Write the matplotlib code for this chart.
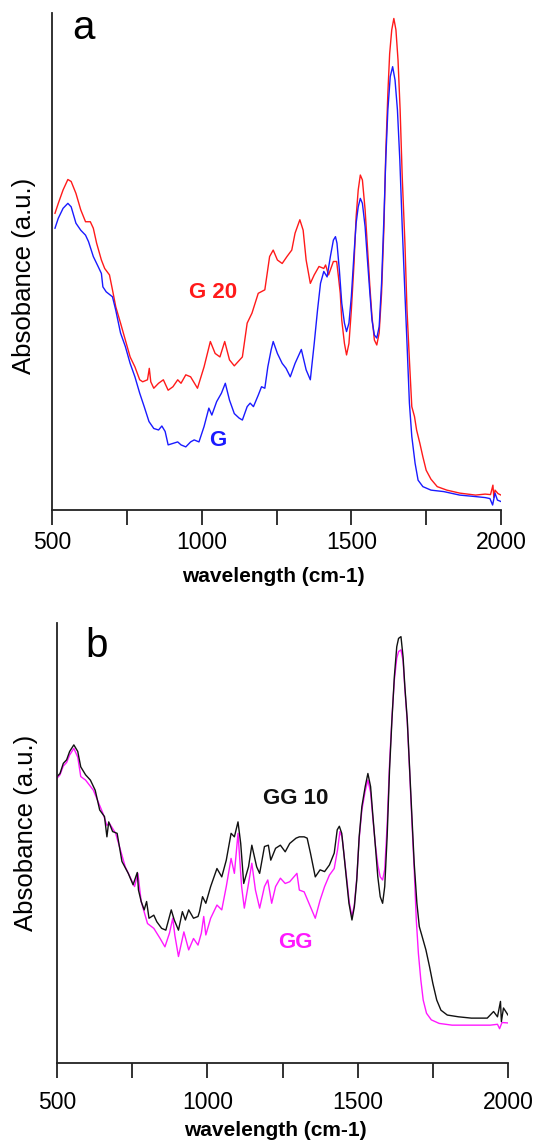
import matplotlib
matplotlib.use("Agg")
import matplotlib.pyplot as plt
import numpy as np

plt.rcParams['font.family'] = ['Liberation Sans', 'DejaVu Sans']

# ---------------- data (wavenumber, absorbance a.u.) ----------------
g20 = [(510,0.597),(521,0.617),(537,0.644),(553,0.665),(564,0.661),(580,0.637),(596,0.604),
       (612,0.580),(628,0.580),(638,0.567),(649,0.537),(665,0.503),(676,0.486),(692,0.473),
       (702,0.443),(713,0.409),(729,0.376),(745,0.342),(761,0.308),(777,0.288),(793,0.262),
       (803,0.258),(819,0.262),(825,0.285),(830,0.258),(840,0.245),(856,0.255),(872,0.262),
       (888,0.241),(904,0.248),(920,0.262),(931,0.255),(947,0.272),(963,0.268),(986,0.245),
       (1008,0.288),(1029,0.339),(1045,0.315),(1061,0.308),(1077,0.339),(1093,0.302),(1109,0.290),
       (1136,0.308),(1152,0.376),(1168,0.396),(1189,0.436),(1211,0.443),(1227,0.510),(1239,0.523),
       (1253,0.503),(1269,0.496),(1285,0.510),(1301,0.523),(1312,0.557),(1328,0.584),(1339,0.563),
       (1349,0.503),(1363,0.456),(1376,0.473),(1392,0.490),(1408,0.486),(1414,0.493),(1424,0.473),
       (1440,0.500),(1451,0.500),(1457,0.469),(1463,0.436),(1468,0.382),(1477,0.335),(1484,0.312),
       (1492,0.335),(1500,0.402),(1509,0.496),(1516,0.590),(1523,0.644),(1530,0.674),(1537,0.664),
       (1546,0.604),(1553,0.537),(1562,0.449),(1569,0.389),(1577,0.342),(1585,0.332),(1593,0.356),
       (1601,0.436),(1609,0.570),(1615,0.718),(1622,0.838),(1628,0.918),(1635,0.966),(1642,0.989),
       (1649,0.966),(1656,0.905),(1663,0.805),(1670,0.671),(1679,0.537),(1686,0.402),(1694,0.302),
       (1702,0.208),(1711,0.188),(1718,0.161),(1729,0.134),(1739,0.107),(1750,0.080),(1766,0.062),
       (1787,0.047),(1819,0.040),(1862,0.034),(1915,0.030),(1947,0.032),(1965,0.031),(1973,0.050),
       (1976,0.025),(1980,0.040),(1990,0.033),(2000,0.030)]

g = [(510,0.567),(521,0.587),(537,0.607),(553,0.617),(564,0.610),(580,0.577),(596,0.563),
     (612,0.553),(622,0.540),(638,0.510),(654,0.490),(665,0.476),(670,0.449),(681,0.439),
     (702,0.429),(713,0.402),(729,0.356),(745,0.329),(761,0.295),(777,0.268),(793,0.235),
     (808,0.208),(824,0.178),(840,0.164),(856,0.161),(867,0.169),(878,0.158),(888,0.131),
     (904,0.134),(920,0.137),(931,0.131),(947,0.127),(963,0.137),(975,0.141),(991,0.137),
     (1008,0.168),(1024,0.205),(1034,0.191),(1050,0.218),(1066,0.235),(1079,0.255),(1093,0.221),
     (1109,0.194),(1125,0.185),(1136,0.181),(1152,0.208),(1162,0.215),(1173,0.208),(1189,0.231),
     (1200,0.248),(1211,0.245),(1221,0.288),(1232,0.322),(1239,0.339),(1253,0.315),(1269,0.295),
     (1282,0.285),(1296,0.268),(1312,0.295),(1333,0.323),(1349,0.282),(1363,0.262),(1376,0.335),
     (1387,0.402),(1397,0.456),(1408,0.480),(1419,0.469),(1430,0.510),(1440,0.543),(1447,0.550),
     (1452,0.537),(1460,0.483),(1468,0.416),(1477,0.376),(1484,0.359),(1492,0.376),(1500,0.429),
     (1509,0.516),(1516,0.577),(1523,0.610),(1530,0.627),(1537,0.617),(1546,0.570),(1553,0.510),
     (1562,0.436),(1569,0.382),(1577,0.352),(1585,0.346),(1593,0.369),(1601,0.456),(1609,0.590),
     (1615,0.704),(1622,0.805),(1630,0.872),(1638,0.892),(1646,0.865),(1654,0.805),(1662,0.704),
     (1670,0.570),(1679,0.436),(1686,0.335),(1694,0.215),(1702,0.148),(1713,0.094),(1723,0.060),
     (1739,0.047),(1766,0.040),(1809,0.037),(1862,0.030),(1915,0.027),(1947,0.025),(1963,0.023),
     (1972,0.010),(1980,0.034),(1988,0.020),(2000,0.017)]

gg10 = [(500,0.651),(510,0.658),(521,0.681),(532,0.689),(542,0.708),(556,0.723),(569,0.708),
        (579,0.673),(595,0.655),(611,0.643),(627,0.620),(642,0.575),(658,0.560),(666,0.514),
        (672,0.548),(685,0.526),(700,0.522),(716,0.458),(737,0.431),(753,0.405),(767,0.433),
        (771,0.393),(780,0.367),(790,0.348),(798,0.367),(806,0.329),(822,0.336),(832,0.321),
        (848,0.306),(862,0.302),(880,0.348),(890,0.325),(904,0.302),(917,0.344),(927,0.325),
        (938,0.348),(954,0.329),(969,0.333),(974,0.344),(984,0.378),(995,0.363),(1011,0.401),
        (1032,0.442),(1048,0.423),(1063,0.461),(1079,0.522),(1090,0.514),(1102,0.548),(1111,0.499),
        (1121,0.408),(1137,0.446),(1148,0.495),(1164,0.446),(1174,0.431),(1190,0.492),(1203,0.495),
        (1211,0.461),(1227,0.488),(1243,0.495),(1259,0.480),(1274,0.499),(1295,0.511),(1306,0.514),
        (1322,0.514),(1332,0.511),(1343,0.477),(1359,0.423),(1375,0.439),(1390,0.435),(1406,0.450),
        (1422,0.477),(1432,0.530),(1439,0.538),(1447,0.522),(1454,0.477),(1463,0.416),(1471,0.363),
        (1481,0.325),(1489,0.355),(1497,0.416),(1505,0.514),(1514,0.583),(1525,0.628),(1534,0.658),
        (1543,0.628),(1550,0.567),(1559,0.492),(1567,0.423),(1575,0.378),(1583,0.363),(1590,0.401),
        (1598,0.514),(1606,0.666),(1614,0.780),(1622,0.878),(1630,0.946),(1636,0.965),(1644,0.969),
        (1651,0.923),(1657,0.855),(1665,0.780),(1673,0.666),(1681,0.552),(1688,0.454),(1697,0.363),
        (1705,0.310),(1713,0.291),(1727,0.257),(1739,0.219),(1750,0.181),(1763,0.143),(1777,0.120),
        (1798,0.109),(1835,0.105),(1878,0.102),(1931,0.102),(1952,0.117),(1965,0.105),(1975,0.140),
        (1978,0.094),(1985,0.125),(2000,0.109)]

gg = [(500,0.647),(510,0.655),(521,0.675),(532,0.683),(542,0.700),(556,0.715),(569,0.695),
      (579,0.651),(595,0.643),(621,0.620),(653,0.567),(666,0.540),(674,0.545),(695,0.522),
      (727,0.446),(758,0.401),(769,0.431),(780,0.367),(801,0.317),(822,0.306),(843,0.283),
      (859,0.264),(874,0.295),(885,0.329),(892,0.290),(904,0.242),(922,0.298),(938,0.257),
      (954,0.283),(969,0.268),(980,0.295),(988,0.333),(995,0.291),(1011,0.329),(1032,0.359),
      (1048,0.348),(1063,0.401),(1079,0.465),(1090,0.431),(1102,0.522),(1114,0.401),(1123,0.352),
      (1137,0.408),(1148,0.454),(1160,0.393),(1174,0.352),(1190,0.401),(1201,0.416),(1214,0.363),
      (1227,0.401),(1243,0.420),(1259,0.408),(1274,0.412),(1298,0.431),(1306,0.393),(1322,0.389),
      (1338,0.363),(1359,0.329),(1375,0.370),(1390,0.401),(1406,0.427),(1422,0.442),(1433,0.484),
      (1441,0.526),(1448,0.514),(1459,0.446),(1465,0.410),(1472,0.365),(1481,0.333),(1489,0.360),
      (1497,0.420),(1505,0.510),(1514,0.575),(1525,0.618),(1534,0.643),(1543,0.615),(1550,0.560),
      (1559,0.495),(1567,0.450),(1575,0.423),(1583,0.416),(1590,0.440),(1598,0.540),(1606,0.680),
      (1614,0.785),(1622,0.870),(1630,0.920),(1636,0.935),(1644,0.939),(1651,0.914),(1657,0.850),
      (1665,0.775),(1673,0.660),(1681,0.540),(1688,0.440),(1695,0.325),(1702,0.249),(1710,0.189),
      (1718,0.143),(1729,0.113),(1745,0.098),(1771,0.090),(1814,0.086),(1878,0.086),(1941,0.086),
      (1965,0.088),(1972,0.078),(1980,0.092),(2000,0.091)]

xticks_major = [500, 1000, 1500, 2000]
xticks_minor = [750, 1250, 1750]
xlabel = "wavelength (cm-1)"
ylabel = "Absobance (a.u.)"

# ---------------- figure ----------------
W, H = 550, 1141
fig = plt.figure(figsize=(W/100, H/100), dpi=100)
axA = fig.add_axes([52/W, (H-510)/H, 449/W, 497/H])
axB = fig.add_axes([57/W, (H-1063)/H, 451/W, 440/H])

def arr(p):
    a = np.array(p, dtype=float)
    return a[:, 0], a[:, 1]

for ax, series, pad in ((axA, [(g20, '#ff1a1a'), (g, '#1a1aff')], 4),
                        (axB, [(gg, '#ff19ff'), (gg10, '#111111')], 9)):
    for data, col in series:
        x, y = arr(data)
        ax.plot(x, y, color=col, lw=1.0)
    ax.set_xlim(500, 2000)
    ax.set_ylim(0, 1)
    for s in ('top', 'right'):
        ax.spines[s].set_visible(False)
    for s in ('left', 'bottom'):
        ax.spines[s].set_linewidth(1.3)
        ax.spines[s].set_color('#222222')
    ax.set_yticks([])
    ax.set_xticks(xticks_major)
    ax.set_xticks(xticks_minor, minor=True)
    ax.tick_params(axis='x', which='both', direction='out', length=11, width=1.3,
                   color='#222222', labelsize=16.5, pad=pad)
    ax.set_xlabel(xlabel, fontsize=15, fontweight='bold')
    ax.set_ylabel(ylabel, fontsize=18.5)
    ax.xaxis.label.set_verticalalignment('center')
    ax.yaxis.label.set_verticalalignment('center')

axA.xaxis.set_label_coords((273.5-52)/449, (510-577)/497)
axB.xaxis.set_label_coords((275.8-57)/451, (1063-1131)/440)
axA.yaxis.set_label_coords((24-52)/449, (510-276)/497)
axB.yaxis.set_label_coords((26-57)/451, (1063-833)/440)

# panel letters
fig.text(72/W, 1-39/H, 'a', fontsize=29, va='baseline', ha='left')
fig.text(85/W, 1-657/H, 'b', fontsize=29, va='baseline', ha='left')

# series annotations
axA.text((213-52)/449, (510-293)/497, 'G 20', color='#ff1a1a', fontsize=16,
         fontweight='bold', ha='center', va='center', transform=axA.transAxes)
axA.text((217.5-52)/449, (510-440)/497, 'G', color='#1a1aff', fontsize=16,
         fontweight='bold', ha='center', va='center', transform=axA.transAxes)
axB.text((296-57)/451, (1063-798)/440, 'GG 10', color='#111111', fontsize=16,
         fontweight='bold', ha='center', va='center', transform=axB.transAxes)
axB.text((295-57)/451, (1063-942)/440, 'GG', color='#ff19ff', fontsize=16,
         fontweight='bold', ha='center', va='center', transform=axB.transAxes)

fig.savefig('out.png', dpi=100)
